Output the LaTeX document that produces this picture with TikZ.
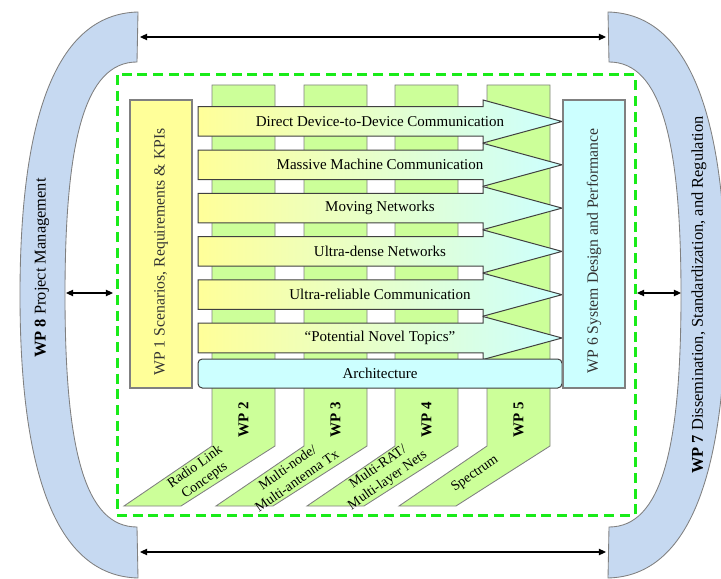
\documentclass[tikz,border=0pt]{standalone}
\usepackage{fontspec}
\setmainfont{Liberation Serif}
\usetikzlibrary{arrows.meta}

\definecolor{wpyellow}{RGB}{255,255,153}
\definecolor{wpcyan}{RGB}{204,255,255}
\definecolor{wpgreen}{RGB}{204,255,153}
\definecolor{wpblue}{RGB}{198,217,241}
\definecolor{wpgray}{RGB}{128,128,128}
\definecolor{wpdash}{RGB}{25,235,25}

\tikzset{
  bracket/.style={draw=wpgray, fill=wpblue, line width=0.6pt},
  bracketlabel/.style={rotate=90, inner sep=1pt, font=\fontsize{11.5}{13}\selectfont},
  dashbox/.style={draw=wpdash, line width=2.1pt, dash pattern=on 7pt off 4pt},
  wpbox/.style={draw=wpgray, line width=0.8pt, inner sep=0pt, rotate=90,
    minimum width=201.6pt, minimum height=43.4pt},
  wptext/.style={rotate=90, inner sep=1pt, text=black!80, font=\fontsize{11}{13}\selectfont},
  colshape/.style={draw=wpgray, fill=wpgreen, line width=0.6pt},
  coltext/.style={rotate=90, inner sep=1pt, font=\bfseries\fontsize{10.5}{12}\selectfont},
  slanttext/.style={rotate=35, align=center, inner sep=0.5pt, font=\fontsize{9.8}{11.5}\selectfont},
  rowarrow/.style={draw=black!75, line width=0.7pt, left color=wpyellow, right color=wpcyan},
  rowtext/.style={font=\fontsize{10.5}{12}\selectfont}
}

% one work package column with its slanted foot
\newcommand{\wpcol}[4]{%
  \path[colshape] (#2,85) -- (#2+63,85) -- (#2+63,446) -- (#2-31,506)
    -- (#2-88,506) -- (#2,446) -- cycle;
  \node[coltext] (#1) at (#2+31.5,420) {WP #3};
  \node[slanttext] (#1txt) at (#2-12,474) {#4};}

% one horizontal topic arrow
\newcommand{\wprow}[3]{%
  \path[rowarrow] (198,#2-14.75) -- (483,#2-14.75) -- (483,#2-21.5) -- (562,#2)
    -- (483,#2+21.5) -- (483,#2+14.75) -- (198,#2+14.75) -- cycle;
  \node[rowtext] (#1) at (380,#2) {#3};}

\begin{document}
\begin{tikzpicture}[x=0.7pt, y=-0.7pt, >={Triangle[length=5pt,width=4.5pt]}]
\useasboundingbox (0,0) rectangle (721,579);
\clip (0,0) rectangle (721,579);

% outer brackets
\path[bracket] (138,12) .. controls (55,14) and (20,120) .. (20,295)
  .. controls (20,470) and (55,576) .. (138,578) -- (137,527)
  .. controls (85,527) and (65,450) .. (65,295)
  .. controls (65,140) and (85,62) .. (137,62) -- cycle;
\path[bracket] (608,12) .. controls (691,14) and (726,120) .. (726,295)
  .. controls (726,470) and (691,576) .. (608,578) -- (609,527)
  .. controls (661,527) and (681,450) .. (681,295)
  .. controls (681,140) and (661,62) .. (609,62) -- cycle;
\node[bracketlabel] (wp8) at (42,268) {\textbf{WP 8} Project Management};
\node[bracketlabel] (wp7) at (699,295) {\textbf{WP 7} Dissemination, Standardization, and Regulation};

\draw[dashbox] (117,75) rectangle (635,515);

% technical work packages
\wpcol{wp2}{212}{2}{Radio Link\\Concepts}
\wpcol{wp3}{304}{3}{Multi-node/\\Multi-antenna Tx}
\wpcol{wp4}{395}{4}{Multi-RAT/\\Multi-layer Nets}
\wpcol{wp5}{487}{5}{Spectrum}

% topics
\wprow{d2d}{121.5}{Direct Device-to-Device Communication}
\wprow{mmc}{164.8}{Massive Machine Communication}
\wprow{mn}{208.1}{Moving Networks}
\wprow{udn}{251.4}{Ultra-dense Networks}
\wprow{urc}{294.7}{Ultra-reliable Communication}
\wprow{pnt}{338}{``Potential Novel Topics''}

\node[draw=black!75, line width=0.7pt, fill=wpcyan, rounded corners=3pt,
  minimum width=254.8pt, minimum height=20.3pt, rowtext] (arch) at (380,373.5) {Architecture};

\node[wpbox, fill=wpyellow] (wp1) at (161,244) {};
\node[wptext] (wp1txt) at (161,252) {WP 1 Scenarios, Requirements \& KPIs};
\node[wpbox, fill=wpcyan] (wp6) at (594,244) {};
\node[wptext] (wp6txt) at (594,251) {WP 6 System Design and Performance};

\coordinate (lt) at (140,37);
\coordinate (rt) at (606,37);
\coordinate (lb) at (140,552);
\coordinate (rb) at (606,552);
\coordinate (lm) at (66,293);
\coordinate (lmin) at (113,293);
\coordinate (rmin) at (637,293);
\coordinate (rm) at (681,293);
\path[<->, line width=0.8pt]
    (lt) edge (rt)
    (lb) edge (rb)
    (lm) edge (lmin)
    (rmin) edge (rm);
\end{tikzpicture}
\end{document}
